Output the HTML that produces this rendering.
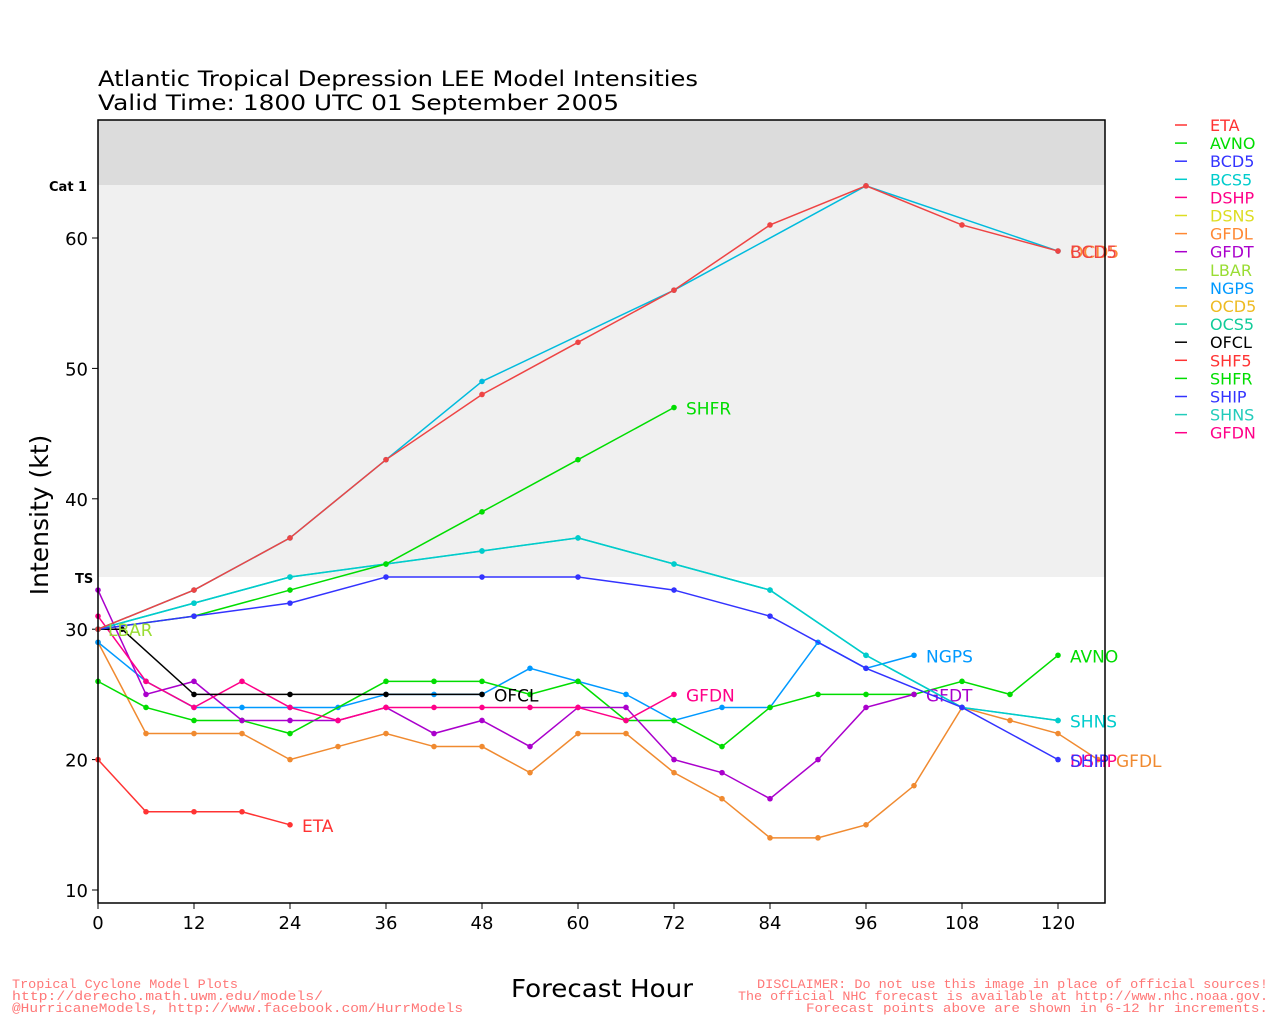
<!DOCTYPE html>
<html><head><meta charset="utf-8"><style>
body{margin:0;background:#fff;}
svg{display:block;font-family:"DejaVu Sans","Liberation Sans",sans-serif;}
</style></head><body>
<svg id="s" width="1280" height="1024" xmlns="http://www.w3.org/2000/svg">
<rect x="98" y="120" width="1007" height="65" fill="#dcdcdc"/>
<rect x="98" y="185" width="1007" height="392" fill="#f0f0f0"/>
<text x="98" y="86" font-size="21" textLength="600" lengthAdjust="spacingAndGlyphs">Atlantic Tropical Depression LEE Model Intensities</text>
<text x="98" y="110" font-size="21" textLength="521" lengthAdjust="spacingAndGlyphs">Valid Time: 1800 UTC 01 September 2005</text>
<text x="49" y="191" font-size="13" font-weight="bold">Cat 1</text>
<text x="75" y="583" font-size="13" font-weight="bold">TS</text>
<text transform="translate(48,515) rotate(-90)" font-size="25" text-anchor="middle">Intensity (kt)</text>
<text x="511" y="997" font-size="25" textLength="182" lengthAdjust="spacingAndGlyphs">Forecast Hour</text>
<g font-family="Liberation Mono,monospace" font-size="13" fill="#f77">
<text x="12" y="988" textLength="226" lengthAdjust="spacingAndGlyphs">Tropical Cyclone Model Plots</text>
<text x="12" y="1000" textLength="311" lengthAdjust="spacingAndGlyphs">http://derecho.math.uwm.edu/models/</text>
<text x="12" y="1012" textLength="451" lengthAdjust="spacingAndGlyphs">@HurricaneModels, http://www.facebook.com/HurrModels</text>
<text x="757" y="988" textLength="511" lengthAdjust="spacingAndGlyphs">DISCLAIMER: Do not use this image in place of official sources!</text>
<text x="738" y="1000" textLength="530" lengthAdjust="spacingAndGlyphs">The official NHC forecast is available at http://www.nhc.noaa.gov.</text>
<text x="806" y="1012" textLength="462" lengthAdjust="spacingAndGlyphs">Forecast points above are shown in 6-12 hr increments.</text>
</g>
<g id="g"></g>
<rect x="98" y="120" width="1007" height="783" fill="none" stroke="#000" stroke-width="1.5"/>
</svg>
<script>
var g=document.getElementById('g'),NS='http://www.w3.org/2000/svg';
function X(h){return 98+8*h}function Y(v){return 890-(v-10)*13.04}
function el(t,a,tx){var e=document.createElementNS(NS,t);for(var k in a)e.setAttribute(k,a[k]);if(tx!==undefined)e.textContent=tx;g.appendChild(e);return e}
for(var v=10;v<=60;v+=10){el('line',{x1:92,x2:98,y1:Y(v),y2:Y(v),stroke:'#000'});el('text',{x:88,y:Y(v)+7,'font-size':18,'text-anchor':'end'},v)}
for(var h=0;h<=120;h+=12){el('line',{x1:X(h),x2:X(h),y1:903,y2:909,stroke:'#000'});el('text',{x:X(h),y:929,'font-size':18,'text-anchor':'middle'},h)}
function S(c,pts,lab,lx,ly){var d=pts.map(function(p){return X(p[0])+','+Y(p[1])}).join(' ');
el('polyline',{points:d,fill:'none',stroke:c,'stroke-width':1.5});
pts.forEach(function(p){el('circle',{cx:X(p[0]),cy:Y(p[1]),r:2.8,fill:c})});
if(lab){var l=pts[pts.length-1];el('text',{x:lx!==undefined?lx:X(l[0])+12,y:ly!==undefined?ly:Y(l[1])+7,'font-size':17,fill:c},lab)}}
function P(a){var r=[];for(var i=0;i<a.length;i+=2)r.push([a[i],a[i+1]]);return r}
S('#f08a30',P([0,29,6,22,12,22,18,22,24,20,30,21,36,22,42,21,48,21,54,19,60,22,66,22,72,19,78,17,84,14,90,14,96,15,102,18,108,24,114,23,120,22,125,20]),'GFDL',1116,767);
S('#f33',P([0,20,6,16,12,16,18,16,24,15]),'ETA');
S('#09f',P([0,29,6,26,12,24,18,24,24,24,30,24,36,25,42,25,48,25,54,27,60,26,66,25,72,23,78,24,84,24,90,29,96,27,102,28]),'NGPS');
S('#0d0',P([0,26,6,24,12,23,18,23,24,22,36,26,42,26,48,26,54,25,60,26,66,23,72,23,78,21,84,24,90,25,96,25,102,25,108,26,114,25,120,28]),'AVNO');
S('#a0c',P([0,33,6,25,12,26,18,23,24,23,30,23,36,24,42,22,48,23,54,21,60,24,66,24,72,20,78,19,84,17,90,20,96,24,102,25]),'GFDT');
S('#f08',P([0,31,6,26,12,24,18,26,24,24,30,23,36,24,42,24,48,24,54,24,60,24,66,23,72,25]),'GFDN');
S('#000',P([0,30,3,30,12,25,24,25,36,25,48,25]),'OFCL');
S('#2cb',P([0,30,12,32,24,34,36,35,48,36,60,37,72,35,84,33,96,28,108,24,120,23]));
S('#0cc',P([0,30,12,32,24,34,36,35,48,36,60,37,72,35,84,33,96,28,108,24,120,23]),'SHNS');
S('#0d0',P([0,30,12,31,24,33,36,35,48,39,60,43,72,47]),'SHFR');
S('#33f',P([0,30,12,31,24,32,36,34,48,34,60,34,72,33,84,31,96,27,108,24,120,20]));
el('text',{x:1070,y:767,'font-size':17,fill:'#f08'},'DSHP');
el('text',{x:1070,y:767,'font-size':17,fill:'#33f'},'SHIP');
S('#0bd',P([0,30,12,33,24,37,36,43,48,49,72,56,96,64,120,59]));
S('#e44',P([0,30,12,33,24,37,36,43,48,48,60,52,72,56,84,61,96,64,108,61,120,59]));
el('text',{x:1070,y:258,'font-size':17,fill:'#f83'},'OCD5');
el('text',{x:1070,y:258,'font-size':17,fill:'#e44'},'BCD5');
el('text',{x:108,y:636,'font-size':17,fill:'#9d3'},'LBAR');
var L=[['ETA','#f33'],['AVNO','#0d0'],['BCD5','#33f'],['BCS5','#0cc'],['DSHP','#f08'],['DSNS','#dd2'],['GFDL','#f83'],['GFDT','#a0c'],['LBAR','#9d3'],['NGPS','#09f'],['OCD5','#eb2'],['OCS5','#1c9'],['OFCL','#000'],['SHF5','#f33'],['SHFR','#0d0'],['SHIP','#33f'],['SHNS','#2cb'],['GFDN','#f08']];
L.forEach(function(a,i){var y=125+i*18.1;el('line',{x1:1175,x2:1187,y1:y,y2:y,stroke:a[1],'stroke-width':1.5});el('text',{x:1210,y:y+6,'font-size':16,fill:a[1]},a[0])});
</script>
</body></html>
